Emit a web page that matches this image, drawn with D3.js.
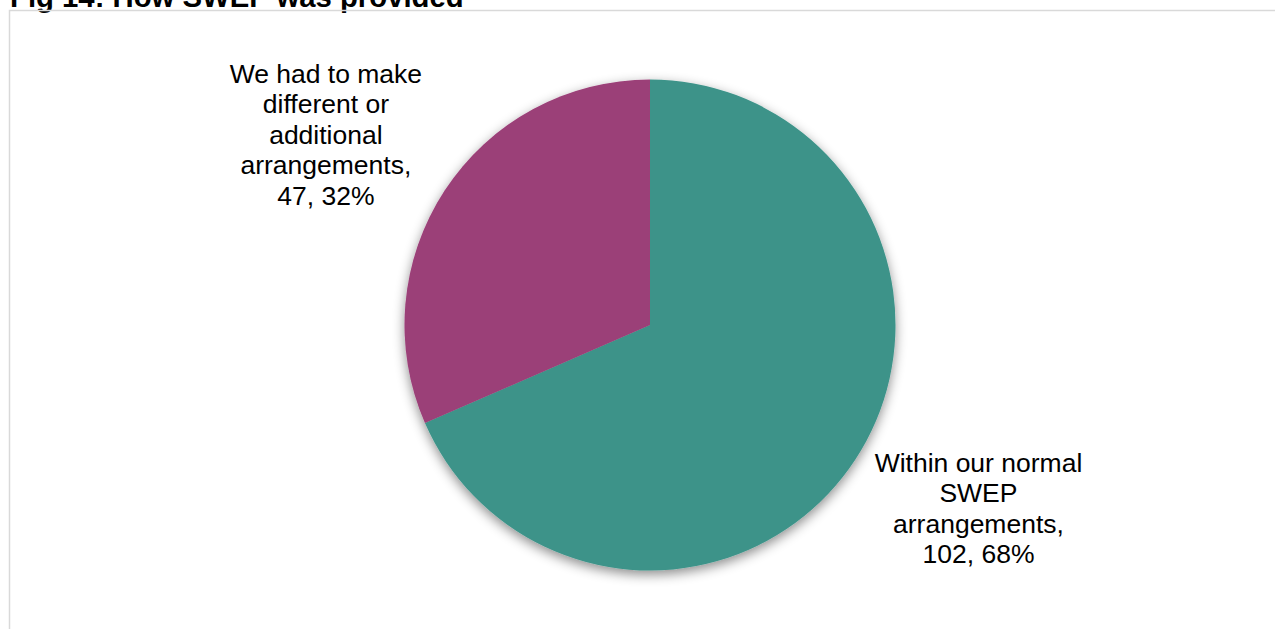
<!DOCTYPE html>
<html>
<head>
<meta charset="utf-8">
<script src="https://cdn.jsdelivr.net/npm/d3@7"></script>
<style>
  html, body { margin: 0; padding: 0; background: #fff; overflow: hidden; }
  svg { display: block; }
</style>
</head>
<body>
<svg id="chart" width="1275" height="629"></svg>
<script>
// Survey answers: how SWEP was provided
const categories = ["Within our normal SWEP arrangements", "We had to make different or additional arrangements"];
const counts = [102, 47];
const percentLabels = ["68%", "32%"];
const labelLines = [
  ["Within our normal", "SWEP", "arrangements,", "102, 68%"],
  ["We had to make", "different or", "additional", "arrangements,", "47, 32%"]
];
const colors = ["#3d9389", "#9b3f78"];
const title = "Fig 14: How SWEP was provided";

const svg = d3.select("#chart");
const W = 1275, H = 629;
const font = "'Liberation Sans', Arial, sans-serif";

// Soft drop shadow under the pie
const defs = svg.append("defs");
const f = defs.append("filter").attr("id", "pieShadow")
  .attr("x", "-20%").attr("y", "-20%").attr("width", "140%").attr("height", "140%");
f.append("feDropShadow").attr("dx", 0).attr("dy", 4).attr("stdDeviation", 6)
  .attr("flood-color", "#000").attr("flood-opacity", 0.45);

// Title
svg.append("text")
  .attr("x", 10).attr("y", 7)
  .attr("font-family", font).attr("font-weight", "bold").attr("font-size", 29.3)
  .attr("fill", "#000")
  .text(title);

// Plot-area border
svg.append("rect")
  .attr("x", 9.5).attr("y", 10.5).attr("width", W + 20).attr("height", H + 20)
  .attr("fill", "none").attr("stroke", "#d9d9d9").attr("stroke-width", 1.5);

const cx = 650, cy = 325, r = 245.5;

const pie = d3.pie().sort(null).value(d => d);
const arcs = pie(counts);
const arc = d3.arc().innerRadius(0).outerRadius(r);

const g = svg.append("g").attr("transform", `translate(${cx},${cy})`);
g.append("g").attr("filter", "url(#pieShadow)")
  .selectAll("path").data(arcs).join("path")
  .attr("d", arc)
  .attr("fill", (d, i) => colors[i]);

// Outside labels, placed near each slice's bisector
const labelRadius = 376;
const angleShift = [-4.1, -2.77].map(a => a * Math.PI / 180);
const lineH = 30.5;
const fontSize = 26.5;
arcs.forEach((a, i) => {
  const mid = (a.startAngle + a.endAngle) / 2 + angleShift[i];
  const lines = labelLines[i];
  const lx = Math.sin(mid) * labelRadius;
  const ly = -Math.cos(mid) * labelRadius;
  const t = g.append("text")
    .attr("font-family", font).attr("font-size", fontSize)
    .attr("fill", "#000").attr("text-anchor", "middle");
  const top = ly - (lines.length - 1) * lineH / 2;
  lines.forEach((ln, k) => {
    t.append("tspan").attr("x", lx).attr("y", top + k * lineH).attr("dy", "0.35em").text(ln);
  });
});
</script>
</body>
</html>
